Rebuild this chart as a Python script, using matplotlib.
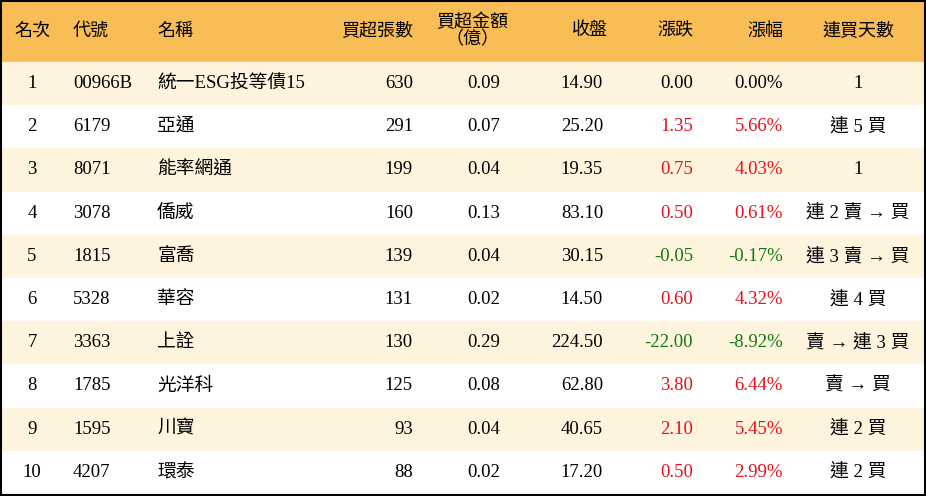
import matplotlib.pyplot as plt
from matplotlib.patches import Rectangle

ranks = [1, 2, 3, 4, 5, 6, 7, 8, 9, 10]
codes = ["00966B", "6179", "8071", "3078", "1815", "5328", "3363", "1785", "1595", "4207"]
names = ["統一ESG投等債15", "亞通", "能率網通", "僑威", "富喬", "華容", "上詮", "光洋科", "川寶", "環泰"]
lots = [630, 291, 199, 160, 139, 131, 130, 125, 93, 88]
amounts = [0.09, 0.07, 0.04, 0.13, 0.04, 0.02, 0.29, 0.08, 0.04, 0.02]
closes = [14.90, 25.20, 19.35, 83.10, 30.15, 14.50, 224.50, 62.80, 40.65, 17.20]
changes = [0.00, 1.35, 0.75, 0.50, -0.05, 0.60, -22.00, 3.80, 2.10, 0.50]
pcts = [0.00, 5.66, 4.03, 0.61, -0.17, 4.32, -8.92, 6.44, 5.45, 2.99]
streaks = ["1", "連 5 買", "1", "連 2 賣 → 買", "連 3 賣 → 買", "連 4 買",
           "賣 → 連 3 買", "賣 → 買", "連 2 買", "連 2 買"]
headers = ["名次", "代號", "名稱", "買超張數", "買超金額\n（億）", "收盤", "漲跌", "漲幅", "連買天數"]

FONT = ["Liberation Serif", "Noto Sans CJK TC"]
RED, GREEN = "#e8101c", "#117a11"

fig = plt.figure(figsize=(9.26, 4.96), dpi=100)
ax = fig.add_axes([0, 0, 1, 1])
ax.set_xlim(0, 926)
ax.set_ylim(496, 0)
ax.axis("off")

head_h, row_h = 62, 43.2
ax.add_patch(Rectangle((0, 0), 926, head_h, color="#f9bd55", zorder=0))
for i in range(len(ranks)):
    y0 = head_h + i * row_h
    ax.add_patch(Rectangle((0, y0), 926, row_h, color="#fef4dd" if i % 2 == 0 else "white", zorder=0))
ax.add_patch(Rectangle((1, 1), 924, 494, fill=False, ec="black", lw=1.5, zorder=3))

cols = [(32, "center"), (73, "left"), (157, "left"), (413, "right"), (500, "right"),
        (603, "right"), (693, "right"), (783, "right"), (858, "center")]
head_x = [(32, "center"), (73, "left"), (157, "left"), (413, "right"), (472, "center"),
          (590, "center"), (675, "center"), (765, "center"), (858, "center")]

for (x, ha), h in zip(head_x, headers):
    ax.text(x, 31, h, ha=ha, va="center", fontsize=13, family=FONT, linespacing=1.0)

def col_of(v):
    return RED if v > 0 else GREEN if v < 0 else "black"

for i in range(len(ranks)):
    y = head_h + (i + 0.5) * row_h
    vals = [str(ranks[i]), codes[i], names[i], str(lots[i]), f"{amounts[i]:.2f}",
            f"{closes[i]:.2f}", f"{changes[i]:.2f}", f"{pcts[i]:.2f}%", streaks[i]]
    colors = ["black"] * 6 + [col_of(changes[i]), col_of(pcts[i]), "black"]
    for (x, ha), v, c in zip(cols, vals, colors):
        ax.text(x, y, v, ha=ha, va="center", fontsize=13.5, family=FONT, color=c)

fig.savefig("out.png", dpi=100)
